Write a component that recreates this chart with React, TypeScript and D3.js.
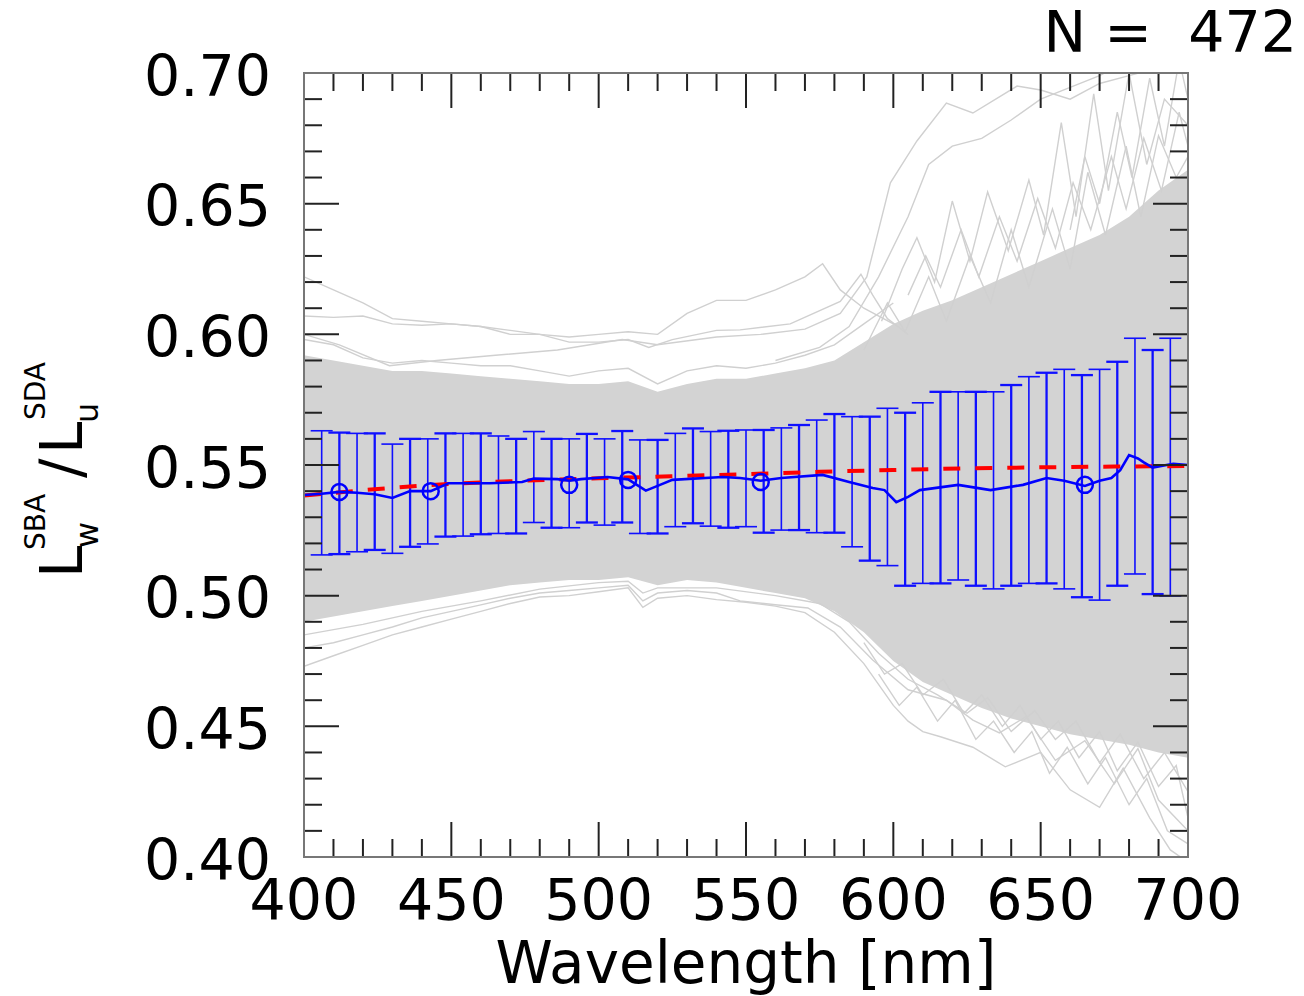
import React from "react";
import * as d3 from "d3";

// wavelength grid (nm) for the dense band of spectra
const bandWl = [400, 410, 420, 430, 440, 450, 460, 470, 480, 490, 500, 510, 520, 530, 540, 550, 560, 570, 580, 590, 600, 610, 620, 630, 640, 650, 660, 670, 680, 690, 700];
const bandUpper = [0.592, 0.59, 0.588, 0.586, 0.586, 0.585, 0.584, 0.583, 0.582, 0.581, 0.581, 0.582, 0.578, 0.581, 0.583, 0.583, 0.585, 0.587, 0.59, 0.597, 0.604, 0.609, 0.613, 0.618, 0.623, 0.628, 0.633, 0.638, 0.645, 0.655, 0.663];
const bandLower = [0.49, 0.492, 0.494, 0.496, 0.498, 0.5, 0.502, 0.504, 0.505, 0.506, 0.506, 0.507, 0.504, 0.506, 0.505, 0.503, 0.501, 0.499, 0.494, 0.486, 0.475, 0.467, 0.462, 0.457, 0.453, 0.45, 0.447, 0.445, 0.443, 0.44, 0.438];

// individual spectra outside the dense band, [wavelength, ratio]
const upperFringe: [number, number][] = [[400, 0.598], [410, 0.596], [420, 0.591], [430, 0.589], [440, 0.59], [450, 0.589], [460, 0.588], [470, 0.588], [480, 0.586], [490, 0.584], [500, 0.586], [510, 0.587], [520, 0.581], [530, 0.586], [540, 0.588], [550, 0.587], [560, 0.589], [570, 0.592], [580, 0.596], [590, 0.604], [600, 0.612]];
const outlierA: [number, number][] = [[400, 0.622], [410, 0.617], [420, 0.612], [430, 0.606], [440, 0.605], [450, 0.604], [460, 0.603], [470, 0.6], [480, 0.6], [490, 0.599], [500, 0.6], [510, 0.601], [520, 0.6], [530, 0.608], [540, 0.613], [550, 0.613], [560, 0.617], [570, 0.622], [576, 0.627], [582, 0.617], [590, 0.61], [600, 0.604]];
const outlierB: [number, number][] = [[400, 0.607], [410, 0.6065], [420, 0.607], [430, 0.604], [440, 0.6035], [450, 0.604], [460, 0.603], [470, 0.6015], [480, 0.6], [490, 0.597], [500, 0.597], [510, 0.598], [517, 0.595], [525, 0.598], [540, 0.6015], [548, 0.6017], [565, 0.604], [582, 0.6126], [589, 0.623], [593, 0.615], [598, 0.606], [605, 0.6]];
const outlierC: [number, number][] = [[400, 0.6], [412, 0.596], [429, 0.588], [445, 0.59], [465, 0.592], [486, 0.594], [508, 0.598], [520, 0.596], [540, 0.599], [555, 0.6], [570, 0.602], [582, 0.608], [591, 0.622], [599, 0.658], [608, 0.674], [618, 0.6885], [627, 0.6847], [642, 0.695], [650, 0.6935], [660, 0.69], [670, 0.696], [680, 0.699], [690, 0.702], [700, 0.704]];
const outlierD: [number, number][] = [[560, 0.59], [575, 0.595], [585, 0.603], [595, 0.622], [605, 0.645], [612, 0.665], [620, 0.672], [630, 0.675], [640, 0.682], [650, 0.69], [660, 0.6945], [670, 0.699], [680, 0.705]];
const spikyA: [number, number][] = [[596, 0.605], [603, 0.625], [608, 0.637], [614, 0.62], [620, 0.651], [626, 0.628], [632, 0.6545], [639, 0.632], [646, 0.659], [651, 0.638], [657, 0.681], [662, 0.645], [668, 0.692], [673, 0.655], [680, 0.7], [686, 0.665], [692, 0.69], [700, 0.68]];
const spikyB: [number, number][] = [[590, 0.594], [598, 0.612], [604, 0.601], [612, 0.622], [618, 0.605], [626, 0.63], [633, 0.612], [640, 0.64], [646, 0.618], [654, 0.648], [660, 0.625], [666, 0.662], [672, 0.638], [679, 0.672], [684, 0.645], [690, 0.676], [696, 0.66], [700, 0.668]];
const spikyC: [number, number][] = [[660, 0.64], [665, 0.668], [670, 0.65], [676, 0.685], [681, 0.66], [687, 0.698], [692, 0.672], [697, 0.705], [700, 0.69]];
const spikyD: [number, number][] = [[605, 0.615], [611, 0.63], [616, 0.618], [623, 0.64], [629, 0.622], [636, 0.645], [642, 0.628], [649, 0.652], [655, 0.633], [661, 0.658], [667, 0.64], [674, 0.668], [679, 0.648], [685, 0.675], [691, 0.655], [697, 0.685], [700, 0.672]];
const lowerA: [number, number][] = [[400, 0.473], [410, 0.477], [420, 0.481], [430, 0.485], [440, 0.488], [450, 0.491], [460, 0.494], [470, 0.497], [480, 0.4995], [490, 0.5], [500, 0.5015], [510, 0.503], [515, 0.4955], [520, 0.499], [530, 0.5], [540, 0.4985], [550, 0.4975], [560, 0.496], [570, 0.4935], [580, 0.486], [590, 0.474], [600, 0.458], [605, 0.452], [610, 0.448], [616, 0.446], [627, 0.442], [638, 0.4345], [650, 0.44], [660, 0.4257], [670, 0.419], [678, 0.434], [687, 0.415], [694, 0.4027], [700, 0.398]];
const lowerB: [number, number][] = [[400, 0.48], [410, 0.482], [420, 0.485], [430, 0.488], [440, 0.4915], [450, 0.494], [460, 0.4965], [470, 0.499], [480, 0.501], [490, 0.502], [500, 0.503], [510, 0.504], [515, 0.498], [520, 0.501], [530, 0.502], [540, 0.501], [548, 0.498], [560, 0.4965], [571, 0.4953], [582, 0.488], [593, 0.4754], [605, 0.464], [618, 0.46], [627, 0.4524], [636, 0.4475], [645, 0.4537], [655, 0.437], [665, 0.4445], [675, 0.428], [683, 0.4415], [690, 0.4218], [700, 0.41]];
const lowerC: [number, number][] = [[400, 0.485], [420, 0.489], [440, 0.494], [460, 0.498], [480, 0.5025], [500, 0.505], [510, 0.5055], [515, 0.501], [520, 0.503], [540, 0.503], [560, 0.5], [575, 0.497], [585, 0.49], [595, 0.478], [605, 0.468], [615, 0.462], [625, 0.455], [632, 0.461], [640, 0.448], [648, 0.456], [655, 0.445], [662, 0.452], [670, 0.436], [677, 0.447], [685, 0.43], [692, 0.44], [700, 0.425]];
const lowerD: [number, number][] = [[590, 0.482], [597, 0.47], [603, 0.474], [610, 0.462], [617, 0.468], [624, 0.455], [630, 0.462], [637, 0.45], [643, 0.458], [650, 0.445], [656, 0.452], [663, 0.438], [670, 0.448], [676, 0.433], [683, 0.444], [690, 0.427], [696, 0.435], [700, 0.415]];
const lowerE: [number, number][] = [[595, 0.47], [602, 0.458], [608, 0.465], [615, 0.452], [621, 0.46], [628, 0.445], [634, 0.452], [641, 0.44], [647, 0.448], [653, 0.432], [659, 0.442], [666, 0.428], [672, 0.438], [680, 0.42], [686, 0.43], [693, 0.41], [700, 0.405]];
const graySpectra = [upperFringe, outlierA, outlierB, outlierC, outlierD, spikyA, spikyB, spikyC, spikyD, lowerA, lowerB, lowerC, lowerD, lowerE];

// mean ratio (blue)
const meanLine: [number, number][] = [[400, 0.5385], [406, 0.539], [412, 0.5397], [418, 0.5394], [424, 0.5388], [430, 0.5374], [436, 0.54], [443, 0.54], [449, 0.543], [463, 0.543], [474, 0.5435], [478, 0.5448], [486, 0.5446], [490, 0.544], [494, 0.5446], [503, 0.5454], [510, 0.5445], [516, 0.5402], [520, 0.542], [525, 0.5443], [542, 0.5454], [548, 0.545], [555, 0.544], [562, 0.545], [576, 0.5462], [585, 0.5435], [593, 0.5412], [597, 0.5404], [601, 0.5358], [605, 0.5378], [609, 0.5404], [622, 0.5424], [633, 0.5404], [644, 0.5424], [652, 0.545], [658, 0.544], [665, 0.542], [670, 0.544], [674, 0.545], [677, 0.548], [680, 0.5538], [683, 0.5525], [685, 0.551], [688, 0.549], [695, 0.5505], [700, 0.55]];
const bandWavelengths = [412, 443, 490, 510, 555, 665];
const bandMeans = [0.5397, 0.54, 0.5424, 0.5443, 0.5435, 0.5424];

// fitted curve (red dashed)
const fitWl = [400, 425, 450, 475, 500, 525, 550, 575, 600, 625, 650, 675, 700];
const fitVal = [0.5383, 0.5408, 0.5428, 0.544, 0.5449, 0.5457, 0.5465, 0.5474, 0.5481, 0.5487, 0.5491, 0.5494, 0.5496];

// error bars: wavelength, upper, lower
const errWl = [406, 412, 418, 424, 430, 436, 442, 448, 454, 460, 466, 472, 478, 484, 490, 496, 502, 508, 514, 520, 526, 532, 538, 544, 550, 556, 562, 568, 574, 580, 586, 592, 598, 604, 610, 616, 622, 628, 634, 640, 646, 652, 658, 664, 670, 676, 682, 688, 694];
const errHi = [0.5631, 0.5624, 0.5621, 0.5621, 0.558, 0.56, 0.56, 0.5621, 0.5621, 0.5621, 0.5611, 0.56, 0.5628, 0.56, 0.56, 0.5619, 0.56, 0.563, 0.5596, 0.5596, 0.5621, 0.564, 0.5628, 0.5631, 0.5634, 0.5634, 0.5642, 0.5653, 0.5672, 0.5695, 0.5685, 0.5685, 0.5717, 0.57, 0.5738, 0.578, 0.578, 0.578, 0.578, 0.5806, 0.5838, 0.5853, 0.5866, 0.5844, 0.5866, 0.5895, 0.5985, 0.594, 0.5985];
const errLo = [0.5156, 0.5159, 0.5168, 0.5175, 0.5162, 0.5187, 0.5198, 0.5226, 0.5228, 0.5235, 0.5238, 0.5238, 0.528, 0.526, 0.526, 0.528, 0.527, 0.528, 0.5238, 0.5238, 0.5264, 0.5277, 0.5266, 0.526, 0.5264, 0.5241, 0.5251, 0.5251, 0.5241, 0.5241, 0.5187, 0.5134, 0.5115, 0.5038, 0.5047, 0.5047, 0.506, 0.5038, 0.5026, 0.5038, 0.5047, 0.5047, 0.5026, 0.4994, 0.4983, 0.5038, 0.5083, 0.5006, 0.4999];

const yTickLabels = ["0.40", "0.45", "0.50", "0.55", "0.60", "0.65", "0.70"];
const xTickLabels = ["400", "450", "500", "550", "600", "650", "700"];

const W = 1304;
const H = 996;
const FONT = "DejaVu Sans, Verdana, sans-serif";

export default function App() {
  const x = d3.scaleLinear().domain([400, 700]).range([304, 1188]);
  const y = d3.scaleLinear().domain([0.4, 0.7]).range([857, 73]);
  const [x0, x1] = x.range();
  const [y0, y1] = y.range();

  const area = d3
    .area<number>()
    .x((d) => x(d))
    .y0((_, i) => y(bandLower[i]))
    .y1((_, i) => y(bandUpper[i]));
  const line = d3
    .line<[number, number]>()
    .x((d) => x(d[0]))
    .y((d) => y(d[1]));
  const fitLine = d3
    .line<number>()
    .x((d) => x(d))
    .y((_, i) => y(fitVal[i]))
    .curve(d3.curveMonotoneX);

  const minorX = d3.range(400, 701, 10);
  const minorY = d3.range(0, 31).map((i) => 0.4 + i * 0.01);
  const isMajorX = (v: number) => v % 50 === 0;
  const isMajorY = (i: number) => i % 5 === 0;
  const tickColor = "#222";

  return (
    <svg width={W} height={H} style={{ position: "absolute", left: 0, top: 0, background: "#fff" }} fontFamily={FONT}>
      <defs>
        <clipPath id="plot">
          <rect x={x0} y={y1} width={x1 - x0} height={y0 - y1} />
        </clipPath>
      </defs>

      <g clipPath="url(#plot)">
        <path d={area(bandWl) || ""} fill="#d3d3d3" />
        {graySpectra.map((s, i) => (
          <path key={i} d={line(s) || ""} fill="none" stroke="#d0d0d0" strokeWidth={1.4} />
        ))}

        {errWl.map((wl, i) => (
          <g key={wl} stroke="#1010ff" strokeWidth={i % 2 === 0 ? 1.6 : 2.3}>
            <line x1={x(wl)} x2={x(wl)} y1={y(errHi[i])} y2={y(errLo[i])} />
            <line x1={x(wl) - 11} x2={x(wl) + 11} y1={y(errHi[i])} y2={y(errHi[i])} />
            <line x1={x(wl) - 11} x2={x(wl) + 11} y1={y(errLo[i])} y2={y(errLo[i])} />
          </g>
        ))}

        <path d={fitLine(fitWl) || ""} fill="none" stroke="#ff0000" strokeWidth={4} strokeDasharray="17 15" />
        <path d={line(meanLine) || ""} fill="none" stroke="#0000ff" strokeWidth={2.6} />
        {bandWavelengths.map((wl, i) => (
          <circle key={wl} cx={x(wl)} cy={y(bandMeans[i])} r={8} fill="none" stroke="#0000ff" strokeWidth={2.5} />
        ))}
      </g>

      {/* ticks on all four sides */}
      <g stroke={tickColor} strokeWidth={2}>
        {minorX.map((v) => {
          const len = isMajorX(v) ? 35 : 18;
          return (
            <g key={v}>
              <line x1={x(v)} x2={x(v)} y1={y0} y2={y0 - len} />
              <line x1={x(v)} x2={x(v)} y1={y1} y2={y1 + len} />
            </g>
          );
        })}
        {minorY.map((v, i) => {
          const len = isMajorY(i) ? 35 : 18;
          return (
            <g key={i}>
              <line x1={x0} x2={x0 + len} y1={y(v)} y2={y(v)} />
              <line x1={x1} x2={x1 - len} y1={y(v)} y2={y(v)} />
            </g>
          );
        })}
      </g>
      <rect x={x0} y={y1} width={x1 - x0} height={y0 - y1} fill="none" stroke="#777" strokeWidth={2} />

      {yTickLabels.map((t) => (
        <text key={t} x={271} y={y(+t)} dy="0.4em" textAnchor="end" fontSize={57} fill="#000">
          {t}
        </text>
      ))}
      {xTickLabels.map((t) => (
        <text key={t} x={x(+t)} y={920} textAnchor="middle" fontSize={57} fill="#000">
          {t}
        </text>
      ))}
      <text x={746} y={983} textAnchor="middle" fontSize={58} fill="#000">
        Wavelength [nm]
      </text>
      <text x={1297} y={52} textAnchor="end" fontSize={57} fill="#000" style={{ whiteSpace: "pre" }}>
        {"N =  472"}
      </text>

      <g transform="translate(82,578) rotate(-90)" fill="#000">
        <text x={0} y={0} fontSize={58}>L</text>
        <text x={30} y={16} fontSize={32}>w</text>
        <text x={28} y={-37} fontSize={28}>SBA</text>
        <text x={100} y={0} fontSize={58}>/</text>
        <text x={124} y={0} fontSize={58}>L</text>
        <text x={155} y={16} fontSize={32}>u</text>
        <text x={158} y={-37} fontSize={28}>SDA</text>
      </g>
    </svg>
  );
}
